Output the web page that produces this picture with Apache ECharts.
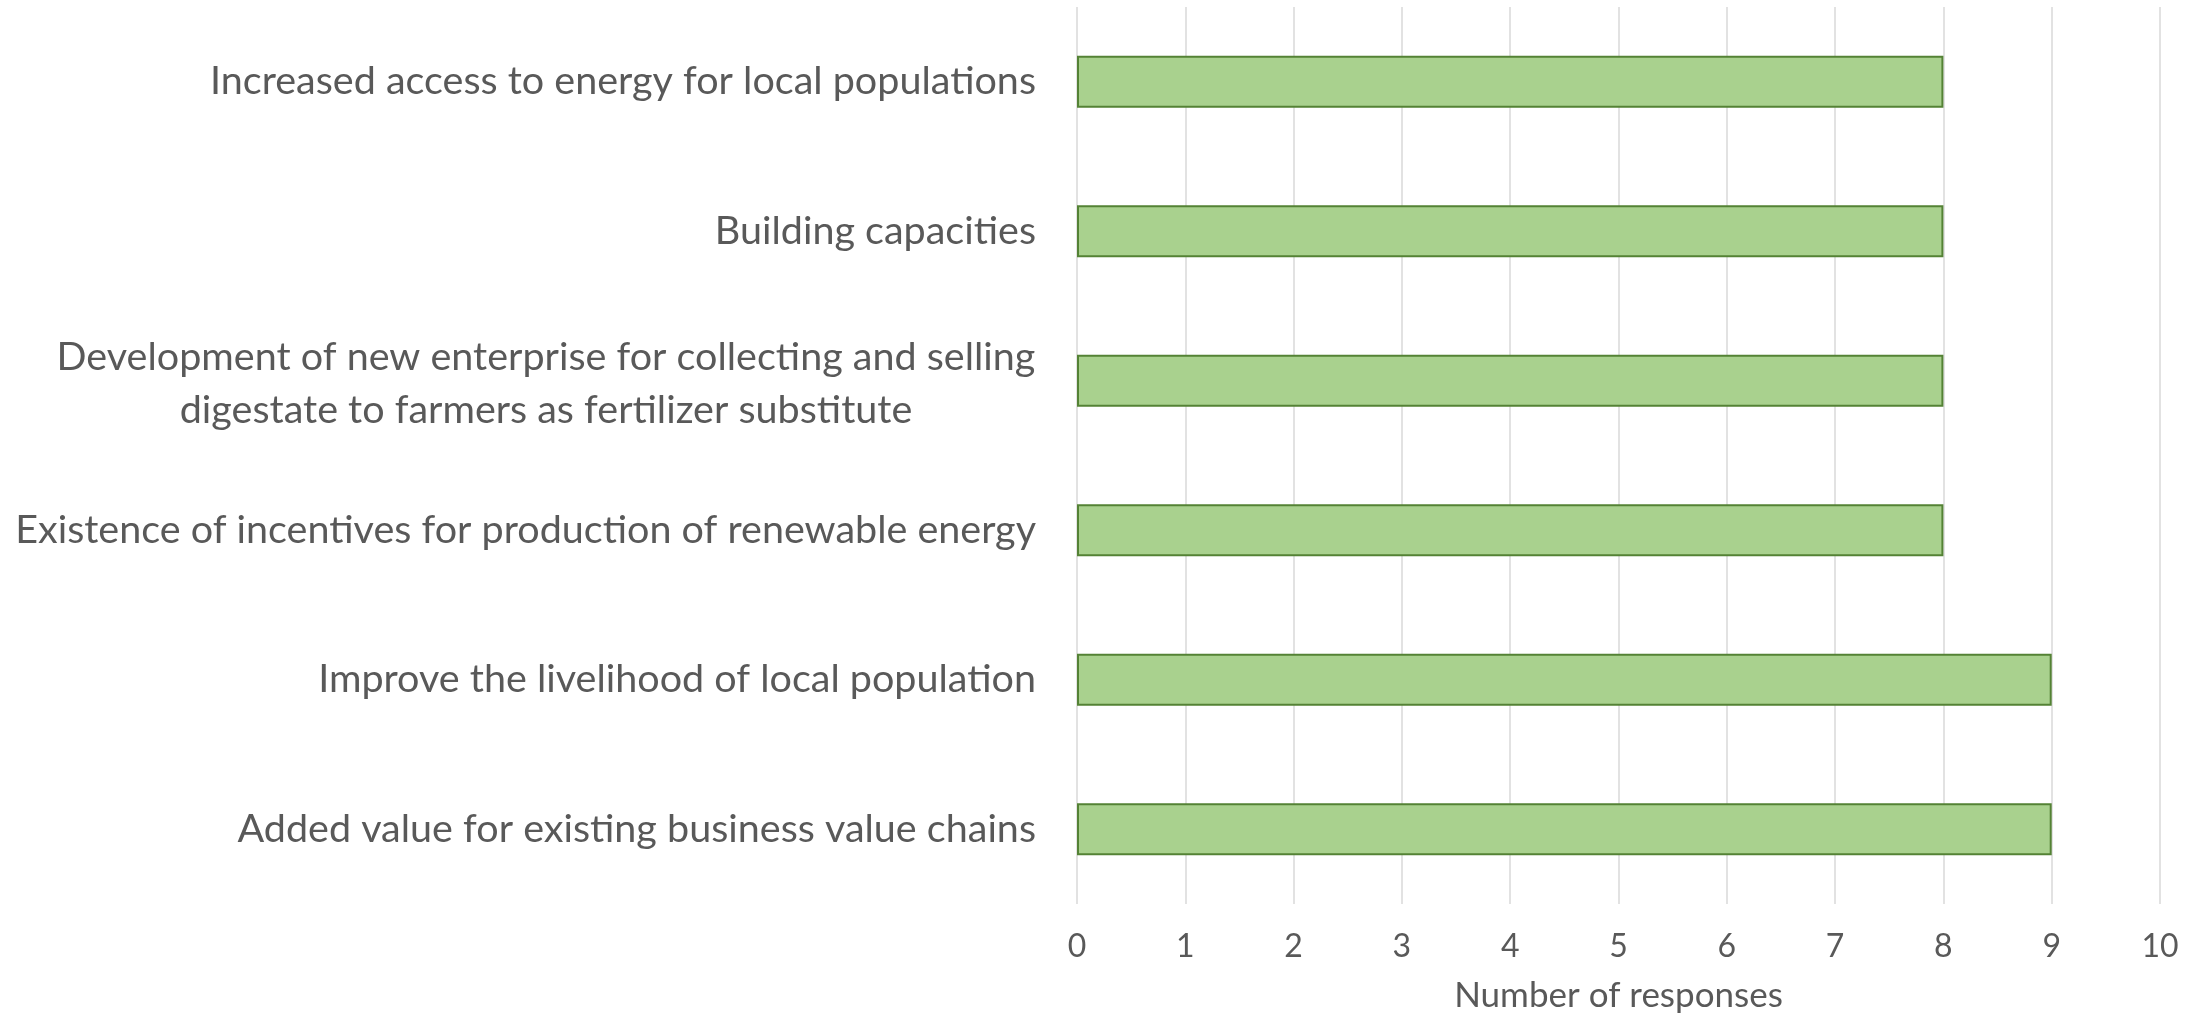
<!DOCTYPE html>
<html>
<head>
<meta charset="utf-8">
<script src="https://cdn.jsdelivr.net/npm/echarts@6/dist/echarts.min.js"></script>
<style>
  html, body { margin: 0; padding: 0; background: #fff; }
  #chart { width: 2203px; height: 1015px; }
</style>
</head>
<body>
<div id="chart"></div>
<script>
// categories, top to bottom as in the picture
var categories = [
  'Increased access to energy for local populations',
  'Building capacities',
  'Development of new enterprise for collecting and selling\ndigestate to farmers as fertilizer substitute',
  'Existence of incentives for production of renewable energy',
  'Improve the livelihood of local population',
  'Added value for existing business value chains'
];
var responses = [8, 8, 8, 8, 9, 9];
var axisName = 'Number of responses';

var chart = echarts.init(document.getElementById('chart'));
var font = 'Lato';
var textColor = '#595959';

var option = {
  animation: false,
  grid: {
    left: 1077,
    right: 43,
    top: 7,
    bottom: 111,
    outerBoundsMode: 'none'
  },
  xAxis: {
    type: 'value',
    min: 0,
    max: 10,
    interval: 1,
    name: axisName,
    nameLocation: 'middle',
    nameGap: 74,
    nameTextStyle: { color: textColor, fontFamily: font, fontSize: 35 },
    axisLine: { show: false },
    axisTick: { show: false },
    axisLabel: { color: textColor, fontFamily: font, fontSize: 32, margin: 27 },
    splitLine: { show: true, lineStyle: { color: '#d9d9d9', width: 1.5 } }
  },
  yAxis: {
    type: 'category',
    inverse: true,
    data: categories,
    axisLine: { show: false },
    axisTick: { show: false },
    axisLabel: {
      color: textColor,
      fontFamily: font,
      fontSize: 39.5,
      margin: 41,
      lineHeight: 52,
      formatter: function (v) {
        // the two-line label is centred line by line, as in the original
        if (v.indexOf('\n') >= 0) {
          return '{c|' + v + '}';
        }
        return v;
      },
      rich: {
        c: {
          color: textColor,
          fontFamily: font,
          fontSize: 39.5,
          lineHeight: 53,
          width: 980,
          align: 'center',
          padding: [6, 0, 0, 0]
        }
      }
    }
  },
  series: [{
    type: 'bar',
    data: responses,
    barWidth: 52,
    itemStyle: {
      color: '#a9d18e',
      borderColor: '#548235',
      borderWidth: 2
    }
  }]
};
chart.setOption(option);
</script>
</body>
</html>
